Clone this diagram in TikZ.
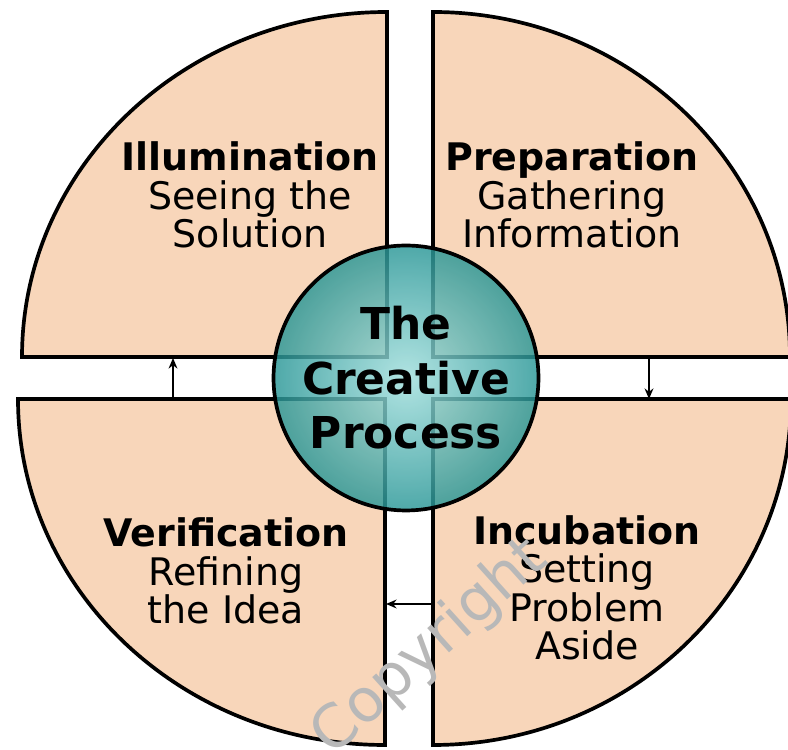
\documentclass[tikz,border=0pt]{standalone}
\usepackage{fontspec}
\setmainfont{DejaVu Sans}
\usetikzlibrary{arrows.meta}

\definecolor{peach}{RGB}{248,214,186}
\definecolor{tealin}{RGB}{160,222,220}
\definecolor{tealout}{RGB}{40,150,150}

\tikzset{
  quad/.style={fill=peach,draw=black,line width=2.1pt},
  phase/.style={align=center,font=\fontsize{21.6}{21.8}\selectfont},
  hub/.style={circle,draw=black,line width=2.1pt,minimum size=5.3cm,inner sep=0pt,
    inner color=tealin,outer color=tealout,fill opacity=0.82,text opacity=1,
    align=center,font=\fontsize{25}{31}\selectfont\bfseries},
  turn/.style={-{Stealth[length=6pt,width=5pt]},line width=1pt},
}

\begin{document}
\begin{tikzpicture}[x=0.02cm,y=0.02cm]
\useasboundingbox (0,0) rectangle (788,750);

% the four phases
\draw[quad] (387,393) -- (387,738) arc[start angle=90,end angle=180,x radius=365,y radius=345] -- cycle;
\draw[quad] (433,393) -- (433,738) arc[start angle=90,end angle=0,x radius=357,y radius=345] -- cycle;
\draw[quad] (385,351) -- (385,5) arc[start angle=270,end angle=180,x radius=367,y radius=346] -- cycle;
\draw[quad] (433,351) -- (433,5) arc[start angle=270,end angle=360,x radius=358,y radius=346] -- cycle;

\node[phase] (illum) at (250,555) {\textbf{Illumination}\\Seeing the\\Solution};
\node[phase] (prep) at (572,555) {\textbf{Preparation}\\Gathering\\Information};
\node[phase] (verif) at (226,179) {\textbf{Verification}\\Refining\\the Idea};
\node[phase] (incub) at (587,162) {\textbf{Incubation}\\Setting\\Problem\\Aside};

% steps from one phase to the next
\coordinate (prepout) at (649,392);
\coordinate (incubin) at (649,351);
\coordinate (incubout) at (433,146);
\coordinate (verifin) at (386,146);
\coordinate (verifout) at (173,351);
\coordinate (illumin) at (173,392);
\draw[turn] (prepout) -- (incubin);
\draw[turn] (incubout) -- (verifin);
\draw[turn] (verifout) -- (illumin);

\node[hub] (hub) at (406,372) {The\\Creative\\Process};

\node[rotate=42,text=black!28,font=\fontsize{34}{34}\selectfont] (mark) at (430,102) {Copyright};

\end{tikzpicture}
\end{document}
